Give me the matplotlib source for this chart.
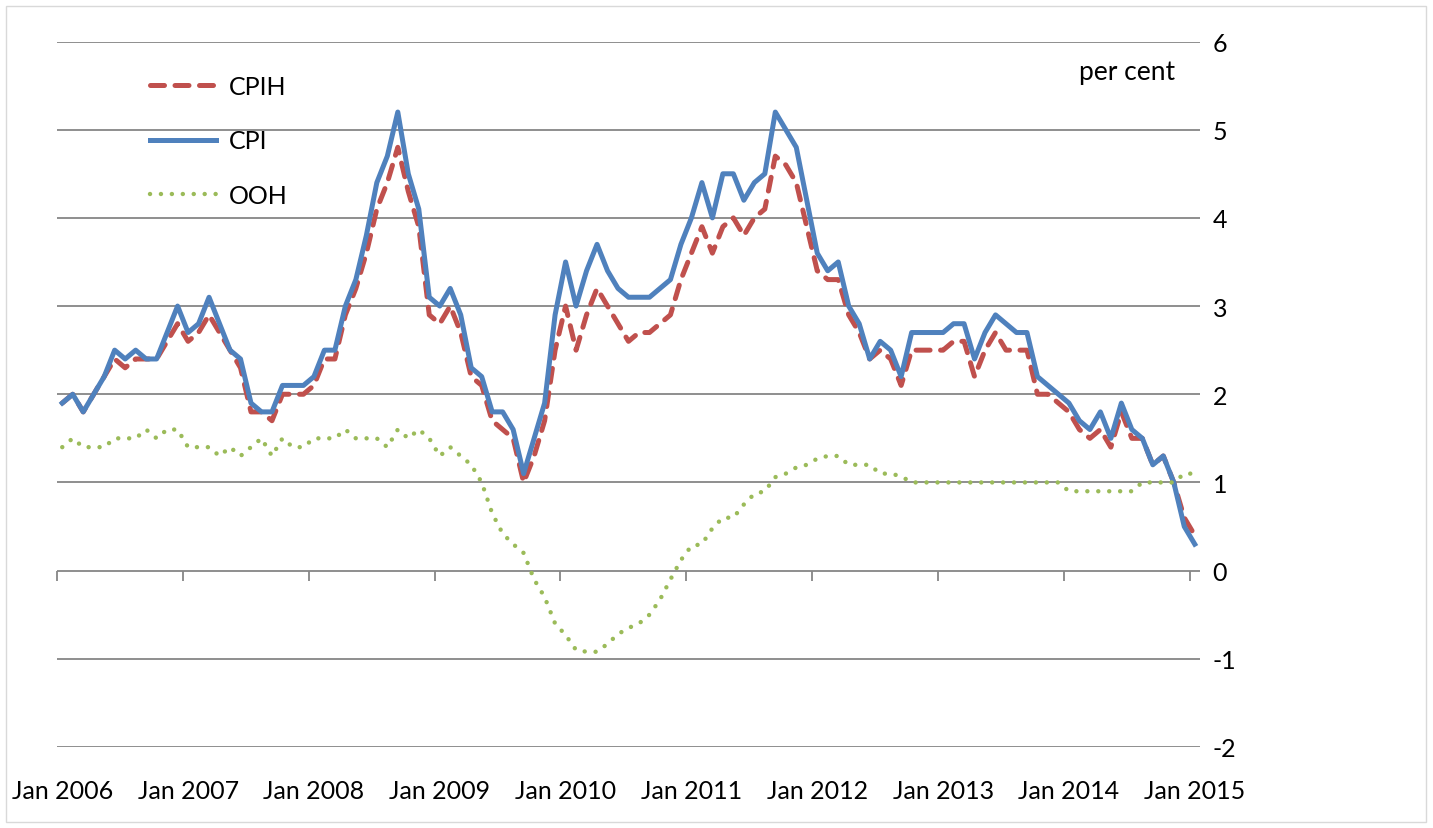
import numpy as np
import matplotlib
matplotlib.use("Agg")
import matplotlib.pyplot as plt

plt.rcParams["font.family"] = ["Lato", "DejaVu Sans"]
plt.rcParams["axes.unicode_minus"] = False

# monthly annual rates, Jan 2006 .. Jan 2015 (per cent)
cpi = [1.9, 2.0, 1.8, 2.0, 2.2, 2.5, 2.4, 2.5, 2.4, 2.4, 2.7, 3.0,
       2.7, 2.8, 3.1, 2.8, 2.5, 2.4, 1.9, 1.8, 1.8, 2.1, 2.1, 2.1,
       2.2, 2.5, 2.5, 3.0, 3.3, 3.8, 4.4, 4.7, 5.2, 4.5, 4.1, 3.1,
       3.0, 3.2, 2.9, 2.3, 2.2, 1.8, 1.8, 1.6, 1.1, 1.5, 1.9, 2.9,
       3.5, 3.0, 3.4, 3.7, 3.4, 3.2, 3.1, 3.1, 3.1, 3.2, 3.3, 3.7,
       4.0, 4.4, 4.0, 4.5, 4.5, 4.2, 4.4, 4.5, 5.2, 5.0, 4.8, 4.2,
       3.6, 3.4, 3.5, 3.0, 2.8, 2.4, 2.6, 2.5, 2.2, 2.7, 2.7, 2.7,
       2.7, 2.8, 2.8, 2.4, 2.7, 2.9, 2.8, 2.7, 2.7, 2.2, 2.1, 2.0,
       1.9, 1.7, 1.6, 1.8, 1.5, 1.9, 1.6, 1.5, 1.2, 1.3, 1.0, 0.5,
       0.3]

cpih = [1.9, 2.0, 1.8, 2.0, 2.2, 2.4, 2.3, 2.4, 2.4, 2.4, 2.6, 2.8,
        2.6, 2.7, 2.9, 2.7, 2.5, 2.3, 1.8, 1.8, 1.7, 2.0, 2.0, 2.0,
        2.1, 2.4, 2.4, 2.9, 3.2, 3.6, 4.1, 4.4, 4.8, 4.3, 3.9, 2.9,
        2.8, 3.0, 2.7, 2.2, 2.1, 1.7, 1.6, 1.5, 1.0, 1.3, 1.7, 2.5,
        3.0, 2.5, 2.9, 3.2, 3.0, 2.8, 2.6, 2.7, 2.7, 2.8, 2.9, 3.3,
        3.6, 3.9, 3.6, 3.9, 4.0, 3.8, 4.0, 4.1, 4.7, 4.6, 4.4, 3.9,
        3.4, 3.3, 3.3, 2.9, 2.7, 2.4, 2.5, 2.4, 2.1, 2.5, 2.5, 2.5,
        2.5, 2.6, 2.6, 2.2, 2.5, 2.7, 2.5, 2.5, 2.5, 2.0, 2.0, 1.9,
        1.8, 1.6, 1.5, 1.6, 1.4, 1.8, 1.5, 1.5, 1.2, 1.3, 1.0, 0.6,
        0.4]

ooh = [1.4, 1.5, 1.4, 1.4, 1.4, 1.5, 1.5, 1.5, 1.6, 1.5, 1.6, 1.6,
       1.4, 1.4, 1.4, 1.3, 1.4, 1.3, 1.4, 1.5, 1.3, 1.5, 1.4, 1.4,
       1.5, 1.5, 1.5, 1.6, 1.5, 1.5, 1.5, 1.4, 1.6, 1.5, 1.6, 1.5,
       1.3, 1.4, 1.3, 1.2, 1.0, 0.65, 0.42, 0.3, 0.2, -0.1, -0.3, -0.6,
       -0.73, -0.9, -0.92, -0.92, -0.83, -0.72, -0.65, -0.6, -0.5, -0.33, -0.1, 0.12,
       0.28, 0.3, 0.48, 0.6, 0.6, 0.75, 0.87, 0.9, 1.06, 1.1, 1.17, 1.2,
       1.27, 1.3, 1.3, 1.2, 1.2, 1.2, 1.1, 1.1, 1.07, 1.0, 1.0, 1.0,
       1.0, 1.0, 1.0, 1.0, 1.0, 1.0, 1.0, 1.0, 1.0, 1.0, 1.0, 1.0,
       0.9, 0.9, 0.9, 0.9, 0.9, 0.9, 0.9, 1.0, 1.0, 1.0, 1.0, 1.1,
       1.1]

year_labels = ["Jan 2006", "Jan 2007", "Jan 2008", "Jan 2009", "Jan 2010",
               "Jan 2011", "Jan 2012", "Jan 2013", "Jan 2014", "Jan 2015"]
y_ticks = [-2, -1, 0, 1, 2, 3, 4, 5, 6]

W, H = 1433, 829
fig = plt.figure(figsize=(W / 100, H / 100), dpi=100)
fig.patches.append(plt.Rectangle((6 / W, 6 / H), 1 - 13 / W, 1 - 13 / H,
                                 transform=fig.transFigure, fill=False,
                                 edgecolor="#d9d9d9", lw=1))

ax = fig.add_axes([57 / W, 1 - 748 / H, (1200 - 57) / W, (748 - 42.5) / H])
x = np.arange(len(cpi))

ax.plot(x, cpih, color="#C0504D", lw=3.6, linestyle=(0, (2.8, 2.1)),
        dash_capstyle="round", label="CPIH")
ax.plot(x, cpi, color="#4F81BD", lw=3.6, label="CPI")
ax.plot(x, ooh, color="#9BBB59", lw=3.2, linestyle=(0, (0.01, 2.45)),
        dash_capstyle="round", label="OOH")

ax.set_xlim(-0.5, len(cpi) - 0.5)
ax.set_ylim(-2, 6)

for s in ax.spines.values():
    s.set_visible(False)

ax.set_yticks(y_ticks, labels=[str(v) for v in y_ticks])
ax.yaxis.tick_right()
ax.tick_params(axis="y", length=0, pad=9, labelsize=18)
ax.grid(axis="y", color="#868686", lw=1.3)
ax.set_axisbelow(True)

ax.set_xticks(np.arange(0, len(cpi), 12), labels=year_labels)
ax.tick_params(axis="x", length=0, pad=23, labelsize=18)

# category axis crossing at zero, tick marks between categories
sec = ax.secondary_xaxis(0.25)
sec.set_xticks(np.arange(0, len(cpi) + 1, 12) - 0.5)
sec.tick_params(axis="x", length=7, width=1.3, color="#868686",
                labelbottom=False, labeltop=False)
for s in sec.spines.values():
    s.set_visible(False)

ax.text(0.936, 0.958, "per cent", transform=ax.transAxes,
        ha="center", va="center", fontsize=19)

ax.legend(loc="upper left", bbox_to_anchor=(150 / W, 1 - 76 / H),
          bbox_transform=fig.transFigure, frameon=False, fontsize=18,
          handlelength=2.65, handletextpad=0.5, labelspacing=1.25,
          borderpad=0, borderaxespad=0)

fig.savefig("out.png", dpi=100)
